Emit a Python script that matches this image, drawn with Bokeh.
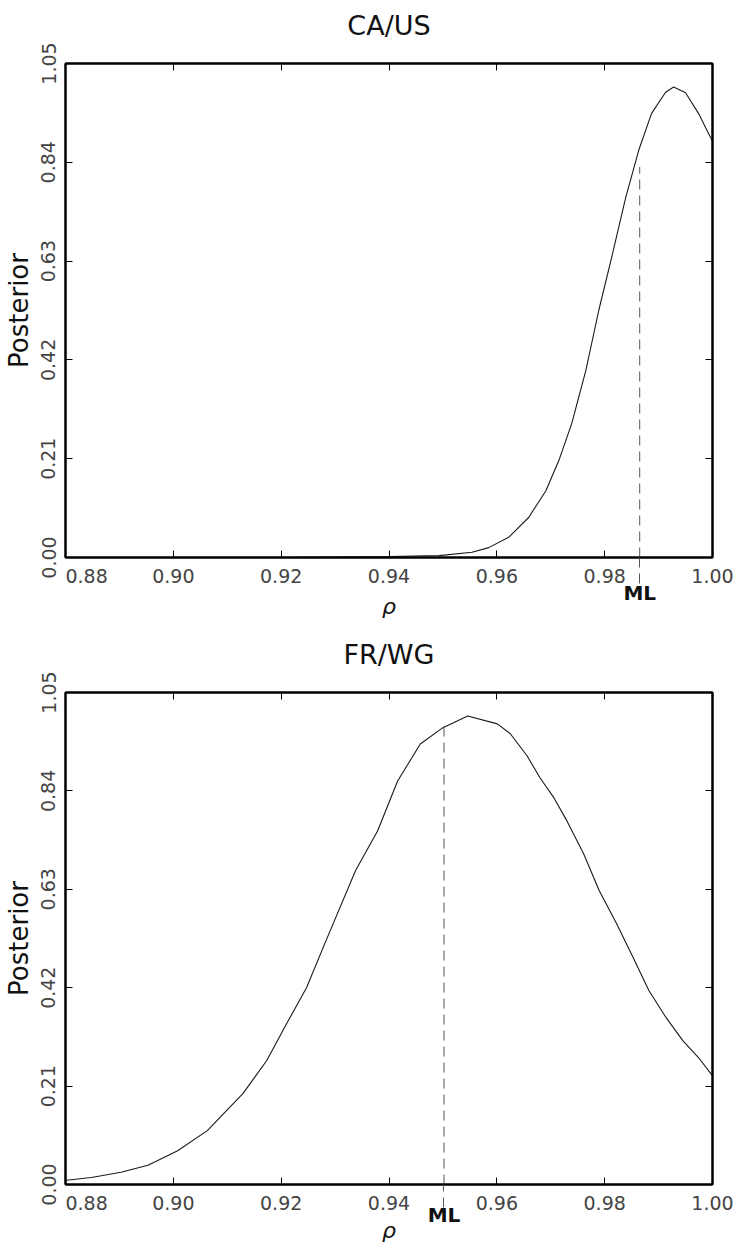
from bokeh.plotting import figure
from bokeh.layouts import column
from bokeh.models import FixedTicker, NumeralTickFormatter, LinearAxis, Range1d
from bokeh.embed import file_html
from bokeh.resources import INLINE

# ---- data ----
titles = ["CA/US", "FR/WG"]
x_ticks = [0.88, 0.90, 0.92, 0.94, 0.96, 0.98, 1.00]
y_ticks = [0.00, 0.21, 0.42, 0.63, 0.84, 1.05]

rho_ca = [0.880, 0.920, 0.940, 0.9493, 0.9554, 0.9585, 0.9622, 0.9659, 0.9691, 0.9715,
          0.9739, 0.9765, 0.9789, 0.9813, 0.9839, 0.9863, 0.9887, 0.9913, 0.9928, 0.9950,
          0.9974, 0.9988, 1.000]
post_ca = [0.000, 0.000, 0.002, 0.004, 0.011, 0.021, 0.043, 0.085, 0.142, 0.206,
           0.285, 0.397, 0.525, 0.638, 0.765, 0.865, 0.944, 0.989, 1.000, 0.988,
           0.944, 0.912, 0.885]
ml_ca = 0.9865
ml_top_ca = 0.83

rho_fr = [0.8802, 0.8848, 0.8903, 0.8953, 0.9008, 0.9063, 0.9129, 0.9173, 0.9210, 0.9247,
          0.9283, 0.9338, 0.9379, 0.9416, 0.9458, 0.9500, 0.9546, 0.9601, 0.9625, 0.9656,
          0.9680, 0.9706, 0.9730, 0.9761, 0.9790, 0.9822, 0.9853, 0.9882, 0.9914, 0.9945,
          0.9974, 1.0000]
post_fr = [0.009, 0.015, 0.026, 0.041, 0.072, 0.115, 0.194, 0.264, 0.343, 0.420,
           0.520, 0.670, 0.755, 0.861, 0.940, 0.975, 1.000, 0.983, 0.962, 0.915,
           0.868, 0.825, 0.776, 0.706, 0.627, 0.557, 0.484, 0.414, 0.356, 0.307,
           0.271, 0.232]
ml_fr = 0.9502
ml_top_fr = 0.98

FONT = "DejaVu Sans"
DASH = "10 6"


def make(title, rho, post, ml, ml_top, height, left, right, top, bottom, ml_ext,
         ml_standoff, rho_standoff):
    p = figure(width=744, height=height,
               x_range=Range1d(x_ticks[0], x_ticks[-1]),
               y_range=Range1d(y_ticks[0], y_ticks[-1]),
               output_backend="svg", toolbar_location=None,
               min_border_left=left, min_border_right=right,
               min_border_top=top, min_border_bottom=bottom,
               title=None)

    p.xgrid.visible = False
    p.ygrid.visible = False
    p.outline_line_color = "black"
    p.outline_line_width = 2
    p.background_fill_color = "white"
    p.border_fill_color = "white"

    # bottom axis (numbers); the ML dashed line continues below the frame as a minor tick
    xa = p.xaxis[0]
    xa.ticker = FixedTicker(ticks=x_ticks, minor_ticks=[ml])
    xa.formatter = NumeralTickFormatter(format="0.00")
    xa.major_label_overrides = {x_ticks[0]: "\u00a0" * 7 + "%.2f" % x_ticks[0]}
    xa.minor_tick_in = 0
    xa.minor_tick_out = ml_ext
    xa.minor_tick_line_color = "#555555"
    xa.minor_tick_line_width = 1
    xa.minor_tick_line_dash = DASH
    xa.major_label_standoff = 7 - ml_ext

    # left axis
    ya = p.yaxis[0]
    ya.ticker = FixedTicker(ticks=y_ticks)
    ya.formatter = NumeralTickFormatter(format="0.00")
    ya.major_label_orientation = "vertical"
    ya.minor_tick_line_color = None
    ya.major_label_standoff = 10

    for ax in (xa, ya):
        ax.major_tick_in = 7
        ax.major_tick_out = 0
        ax.axis_line_width = 2
        ax.axis_line_color = "black"
        ax.major_tick_line_color = "black"
        ax.major_tick_line_width = 1
        ax.major_label_text_font = FONT
        ax.major_label_text_font_size = "19px"
        ax.major_label_text_color = "#444444"
        ax.axis_label_text_font = FONT
        ax.axis_label_text_color = "#111111"

    ya.axis_label = "Posterior"
    ya.axis_label_text_font_size = "26px"
    ya.axis_label_text_font_style = "normal"
    ya.axis_label_standoff = 5

    # second bottom axis: "ML" marker label and the rho axis title
    ma = LinearAxis(ticker=FixedTicker(ticks=[ml], minor_ticks=[]),
                    major_label_overrides={ml: "ML"},
                    axis_line_color=None, major_tick_line_color=None,
                    major_tick_in=0, major_tick_out=0,
                    major_label_standoff=ml_standoff,
                    major_label_text_font=FONT, major_label_text_font_size="20px",
                    major_label_text_font_style="bold",
                    major_label_text_color="#111111",
                    axis_label="\u03c1", axis_label_text_font=FONT,
                    axis_label_text_font_size="22px", axis_label_text_font_style="italic",
                    axis_label_text_color="#111111", axis_label_standoff=rho_standoff)
    p.add_layout(ma, "below")

    # top (carrying the panel title) & right tick-only axes
    for loc, tk in (("above", x_ticks), ("right", y_ticks)):
        ax = LinearAxis(ticker=FixedTicker(ticks=tk, minor_ticks=[]), major_tick_in=7, major_tick_out=0,
                        minor_tick_line_color=None, axis_line_width=2,
                        major_label_text_color=None, major_label_text_font_size="1px",
                        major_label_standoff=0)
        if loc == "above":
            ax.axis_label = title
            ax.axis_label_text_font = FONT
            ax.axis_label_text_font_size = "27px"
            ax.axis_label_text_font_style = "normal"
            ax.axis_label_text_color = "#111111"
            ax.axis_label_standoff = 23
        p.add_layout(ax, loc)

    p.line(rho, post, line_color="#1a1a1a", line_width=1.1)
    p.segment(x0=[ml], y0=[y_ticks[0]], x1=[ml], y1=[ml_top],
              line_color="#555555", line_width=1, line_dash=DASH)
    return p


p1 = make(titles[0], rho_ca, post_ca, ml_ca, ml_top_ca, 629, 62, 32, 63, 72, 26, -9, -14)
p2 = make(titles[1], rho_fr, post_fr, ml_fr, ml_top_fr, 618, 64, 27, 63, 63, 23, -14, -12)

layout = column(p1, p2)
open("out.html", "w").write(file_html(layout, INLINE))
